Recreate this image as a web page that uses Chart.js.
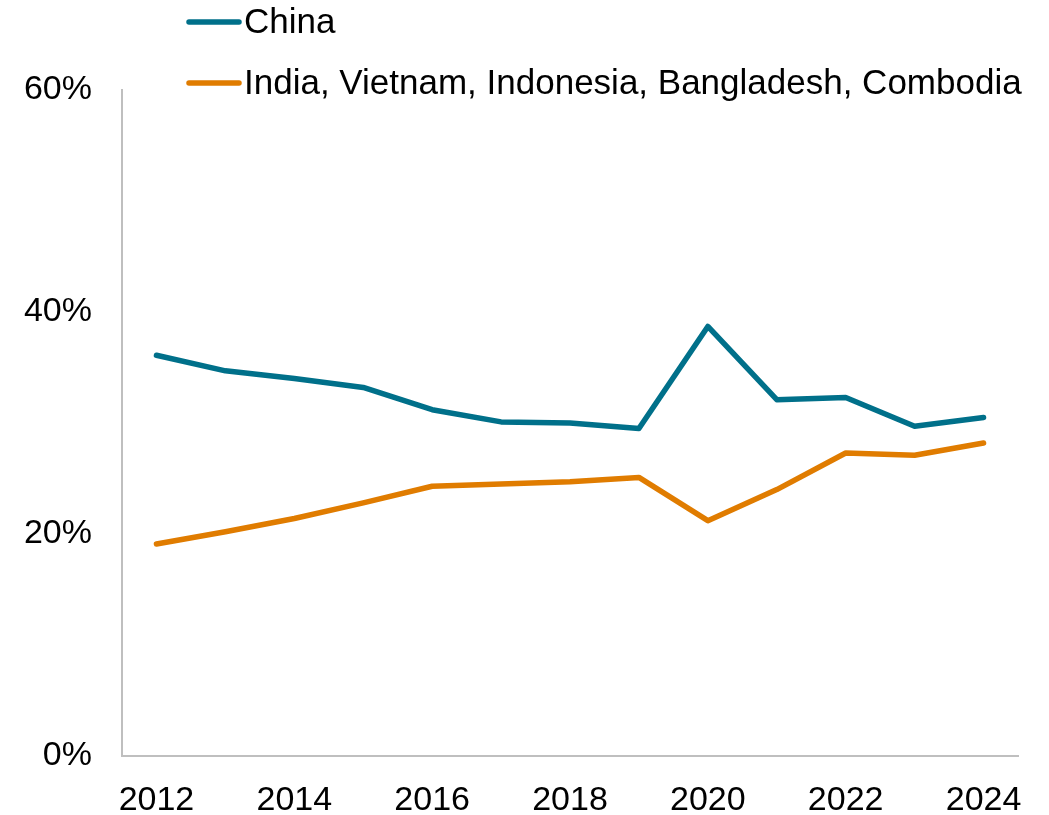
<!DOCTYPE html>
<html>
<head>
<meta charset="utf-8">
<script src="https://cdn.jsdelivr.net/npm/chart.js@4"></script>
<style>
  html, body { margin: 0; padding: 0; background: #fff; }
  #wrap { position: relative; width: 1049px; height: 815px; }
</style>
</head>
<body>
<div id="wrap"><canvas id="myChart" width="1049" height="815"></canvas></div>
<script>
let years = ['2012', '2013', '2014', '2015', '2016', '2017', '2018', '2019', '2020', '2021', '2022', '2023', '2024'];
let chinaShare = [36.1, 34.7, 34.0, 33.2, 31.2, 30.1, 30.0, 29.5, 38.7, 32.1, 32.3, 29.7, 30.5];
let otherShare = [19.1, 20.2, 21.4, 22.8, 24.3, 24.5, 24.7, 25.1, 21.2, 24.0, 27.3, 27.1, 28.2];
let seriesNames = ['China', 'India, Vietnam, Indonesia, Bangladesh, Combodia'];
let yTicks = [0, 20, 40, 60];

const fontFamily = '"Liberation Sans", Arial, sans-serif';

// legend drawn at top-left, above the plot
const topLegend = {
    id: 'topLegend',
    afterDraw(chart) {
        const ctx = chart.ctx;
        const rows = [22, 83];
        ctx.save();
        chart.data.datasets.forEach((ds, i) => {
            let y = rows[i];
            ctx.strokeStyle = ds.borderColor;
            ctx.lineWidth = 5.5;
            ctx.lineCap = 'round';
            ctx.beginPath();
            ctx.moveTo(189, y);
            ctx.lineTo(239, y);
            ctx.stroke();
            ctx.fillStyle = '#000';
            ctx.font = '35px ' + fontFamily;
            ctx.textBaseline = 'middle';
            ctx.textAlign = 'left';
            ctx.fillText(ds.label, 244, y + 1);
        });
        ctx.restore();
    }
};

const ctx = document.getElementById('myChart');
new Chart(ctx, {
    type: 'line',
    data: {
        labels: years,
        datasets: [{
            label: seriesNames[0],
            data: chinaShare,
            borderColor: '#00708A',
            borderWidth: 5.5,
            pointRadius: 0,
            tension: 0,
            borderCapStyle: 'round',
            borderJoinStyle: 'round'
        }, {
            label: seriesNames[1],
            data: otherShare,
            borderColor: '#E07C00',
            borderWidth: 5.5,
            pointRadius: 0,
            tension: 0,
            borderCapStyle: 'round',
            borderJoinStyle: 'round'
        }]
    },
    options: {
        responsive: false,
        animation: false,
        layout: {
            padding: { top: 90, left: 0, right: 31, bottom: 0 }
        },
        plugins: {
            legend: { display: false },
            tooltip: { enabled: false }
        },
        scales: {
            x: {
                offset: true,
                grid: { display: false, drawTicks: false },
                border: { display: true, color: '#bfbfbf', width: 2 },
                ticks: {
                    autoSkip: false,
                    maxRotation: 0,
                    padding: 24,
                    color: '#000',
                    font: { family: fontFamily, size: 34 },
                    callback: function (value, index) {
                        return index % 2 === 0 ? years[index] : '';
                    }
                },
                afterFit: function (scale) {
                    scale.height = 815 - 756;
                }
            },
            y: {
                min: yTicks[0],
                max: yTicks[yTicks.length - 1],
                afterBuildTicks: function (scale) {
                    scale.ticks = yTicks.map(v => ({ value: v }));
                },
                grid: { display: false, drawTicks: false },
                border: { display: true, color: '#bfbfbf', width: 2 },
                ticks: {
                    padding: 30,
                    color: '#000',
                    font: { family: fontFamily, size: 34 },
                    callback: function (value) {
                        return value + '%';
                    }
                },
                afterFit: function (scale) {
                    scale.width = 122;
                }
            }
        }
    },
    plugins: [topLegend]
});
</script>
</body>
</html>
